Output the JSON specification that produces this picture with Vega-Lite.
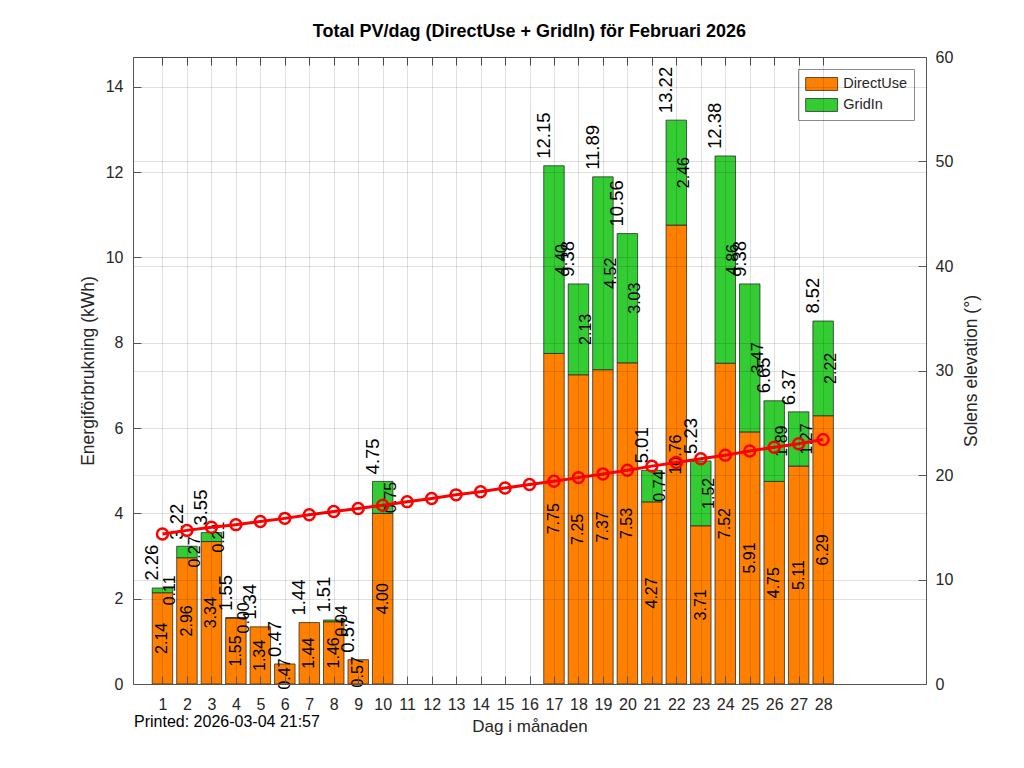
{
  "$schema": "https://vega.github.io/schema/vega-lite/v6.json",
  "description": "Total PV per dag, februari 2026",
  "width": 793,
  "height": 627,
  "autosize": {"type": "none"},
  "padding": {"left": 133, "top": 57, "right": 98, "bottom": 84},
  "background": "white",
  "config": {
    "font": "Liberation Sans",
    "view": {"stroke": null},
    "axis": {
      "domainColor": "#555555",
      "tickColor": "#555555",
      "labelColor": "#262626",
      "titleColor": "#262626",
      "titleFontWeight": "normal",
      "labelFontSize": 16,
      "titleFontSize": 17.5,
      "gridColor": "#000000",
      "gridOpacity": 0.12,
      "tickSize": -8,
      "labelOverlap": false,
      "labelFlush": false
    },
    "legend": {
      "labelFontSize": 14.5,
      "labelColor": "#262626"
    }
  },
  "title": {
    "text": "Total PV/dag (DirectUse + GridIn) för Februari 2026",
    "fontSize": 18,
    "fontWeight": "bold",
    "color": "#000000",
    "offset": 8
  },
  "datasets": {
    "pv": [
      {"day": 1, "DirectUse": 2.14, "GridIn": 0.11, "Total": 2.26},
      {"day": 2, "DirectUse": 2.96, "GridIn": 0.27, "Total": 3.22},
      {"day": 3, "DirectUse": 3.34, "GridIn": 0.21, "Total": 3.55},
      {"day": 4, "DirectUse": 1.55, "GridIn": 0.0, "Total": 1.55},
      {"day": 5, "DirectUse": 1.34, "GridIn": null, "Total": 1.34},
      {"day": 6, "DirectUse": 0.47, "GridIn": null, "Total": 0.47},
      {"day": 7, "DirectUse": 1.44, "GridIn": null, "Total": 1.44},
      {"day": 8, "DirectUse": 1.46, "GridIn": 0.04, "Total": 1.51},
      {"day": 9, "DirectUse": 0.57, "GridIn": null, "Total": 0.57},
      {"day": 10, "DirectUse": 4.0, "GridIn": 0.75, "Total": 4.75},
      {"day": 17, "DirectUse": 7.75, "GridIn": 4.4, "Total": 12.15},
      {"day": 18, "DirectUse": 7.25, "GridIn": 2.13, "Total": 9.38},
      {"day": 19, "DirectUse": 7.37, "GridIn": 4.52, "Total": 11.89},
      {"day": 20, "DirectUse": 7.53, "GridIn": 3.03, "Total": 10.56},
      {"day": 21, "DirectUse": 4.27, "GridIn": 0.74, "Total": 5.01},
      {"day": 22, "DirectUse": 10.76, "GridIn": 2.46, "Total": 13.22},
      {"day": 23, "DirectUse": 3.71, "GridIn": 1.52, "Total": 5.23},
      {"day": 24, "DirectUse": 7.52, "GridIn": 4.86, "Total": 12.38},
      {"day": 25, "DirectUse": 5.91, "GridIn": 3.47, "Total": 9.38},
      {"day": 26, "DirectUse": 4.75, "GridIn": 1.89, "Total": 6.65},
      {"day": 27, "DirectUse": 5.11, "GridIn": 1.27, "Total": 6.37},
      {"day": 28, "DirectUse": 6.29, "GridIn": 2.22, "Total": 8.52}
    ],
    "sun": [
      {"day": 1, "elev": 14.35}, {"day": 2, "elev": 14.7}, {"day": 3, "elev": 15.0},
      {"day": 4, "elev": 15.25}, {"day": 5, "elev": 15.55}, {"day": 6, "elev": 15.85},
      {"day": 7, "elev": 16.2}, {"day": 8, "elev": 16.5}, {"day": 9, "elev": 16.8},
      {"day": 10, "elev": 17.1}, {"day": 11, "elev": 17.45}, {"day": 12, "elev": 17.75},
      {"day": 13, "elev": 18.1}, {"day": 14, "elev": 18.4}, {"day": 15, "elev": 18.75},
      {"day": 16, "elev": 19.1}, {"day": 17, "elev": 19.4}, {"day": 18, "elev": 19.75},
      {"day": 19, "elev": 20.1}, {"day": 20, "elev": 20.45}, {"day": 21, "elev": 20.85},
      {"day": 22, "elev": 21.2}, {"day": 23, "elev": 21.55}, {"day": 24, "elev": 21.9},
      {"day": 25, "elev": 22.3}, {"day": 26, "elev": 22.65}, {"day": 27, "elev": 23.0},
      {"day": 28, "elev": 23.4}
    ]
  },
  "layer": [
    {
      "data": {"name": "pv"},
      "encoding": {
        "x": {
          "field": "day",
          "type": "quantitative",
          "scale": {"domain": [0, 32], "nice": false},
          "axis": {
            "orient": "bottom",
            "values": [1,2,3,4,5,6,7,8,9,10,11,12,13,14,15,16,17,18,19,20,21,22,23,24,25,26,27,28],
            "labelOverlap": false,
            "grid": true,
            "zindex": 1,
            "labelPadding": 20,
            "title": "Dag i månaden",
            "titleFontSize": 17,
            "titlePadding": 6
          }
        }
      },
      "layer": [
        {
          "transform": [
            {"fold": ["DirectUse", "GridIn"], "as": ["Serie", "kWh"]},
            {"filter": "isValid(datum.kWh)"}
          ],
          "mark": {"type": "bar", "size": 20.5, "stroke": "#1a1a1a", "strokeWidth": 0.7},
          "encoding": {
            "y": {
              "field": "kWh",
              "type": "quantitative",
              "stack": "zero",
              "scale": {"domain": [0, 14.7], "nice": false},
              "axis": {
                "orient": "left",
                "values": [0, 2, 4, 6, 8, 10, 12, 14],
                "labelOverlap": false,
                "grid": true,
                "zindex": 1,
                "labelPadding": 18,
                "title": "Energiförbrukning (kWh)",
                "titlePadding": 8
              }
            },
            "color": {
              "field": "Serie",
              "type": "nominal",
              "scale": {"domain": ["DirectUse", "GridIn"], "range": ["#FF8000", "#33CC33"]},
              "legend": {
                "title": null,
                "orient": "top-right",
                "offset": 12,
                "fillColor": "white",
                "strokeColor": "#8c8c8c",
                "padding": 7,
                "rowPadding": 5,
                "symbolType": "M-1,-0.88H3.35V0.88H-1Z",
                "symbolSize": 216,
                "symbolStrokeColor": "#1a1a1a",
                "symbolStrokeWidth": 0.7,
                "labelOffset": 22.3
              }
            },
            "order": {"field": "Serie"}
          }
        },
        {
          "transform": [
            {"fold": ["DirectUse", "GridIn"], "as": ["Serie", "kWh"]},
            {"filter": "isValid(datum.kWh)"},
            {"stack": "kWh", "groupby": ["day"], "sort": [{"field": "Serie"}], "as": ["lo", "hi"]},
            {"calculate": "(datum.lo + datum.hi) / 2", "as": "mid"}
          ],
          "layer": [
            {
              "transform": [{"filter": "datum.Serie === 'DirectUse'"}],
              "mark": {"type": "text", "angle": 270, "align": "center", "baseline": "middle", "fontSize": 16, "color": "#000000"},
              "encoding": {
                "y": {"field": "mid", "type": "quantitative"},
                "text": {"field": "kWh", "format": ".2f"}
              }
            },
            {
              "transform": [{"filter": "datum.Serie === 'GridIn'"}],
              "mark": {"type": "text", "angle": 270, "align": "center", "baseline": "top", "fontSize": 16, "color": "#000000"},
              "encoding": {
                "y": {"field": "mid", "type": "quantitative"},
                "text": {"field": "kWh", "format": ".2f"}
              }
            }
          ]
        },
        {
          "mark": {"type": "text", "angle": 270, "align": "left", "baseline": "bottom", "dx": 7, "fontSize": 18.5, "color": "#000000"},
          "encoding": {
            "y": {"field": "Total", "type": "quantitative"},
            "text": {"field": "Total", "format": ".2f"}
          }
        },
        {
          "data": {"values": [{"day": 0, "note": "Printed: 2026-03-04 21:57"}]},
          "mark": {"type": "text", "align": "left", "baseline": "middle", "dx": -4, "dy": 38, "fontSize": 16, "color": "#000000"},
          "encoding": {
            "y": {"datum": 0, "type": "quantitative"},
            "text": {"field": "note"}
          }
        }
      ]
    },
    {
      "data": {"name": "sun"},
      "mark": {
        "type": "line",
        "color": "#FF0000",
        "strokeWidth": 3,
        "point": {"filled": false, "fill": null, "size": 120, "strokeWidth": 2.5, "color": "#FF0000"}
      },
      "encoding": {
        "x": {
          "field": "day",
          "type": "quantitative",
          "axis": {
            "orient": "top",
            "values": [1,2,3,4,5,6,7,8,9,10,11,12,13,14,15,16,17,18,19,20,21,22,23,24,25,26,27,28],
            "labels": false,
            "grid": false,
            "title": null
          }
        },
        "y": {
          "field": "elev",
          "type": "quantitative",
          "scale": {"domain": [0, 60], "nice": false},
          "axis": {
            "orient": "right",
            "values": [0, 10, 20, 30, 40, 50, 60],
            "labelOverlap": false,
            "grid": true,
            "zindex": 1,
            "labelPadding": 17,
            "title": "Solens elevation (°)",
            "titleAngle": 270,
            "titleBaseline": "top",
            "titlePadding": 10
          }
        }
      }
    }
  ],
  "resolve": {"scale": {"y": "independent"}, "axis": {"x": "independent"}}
}
